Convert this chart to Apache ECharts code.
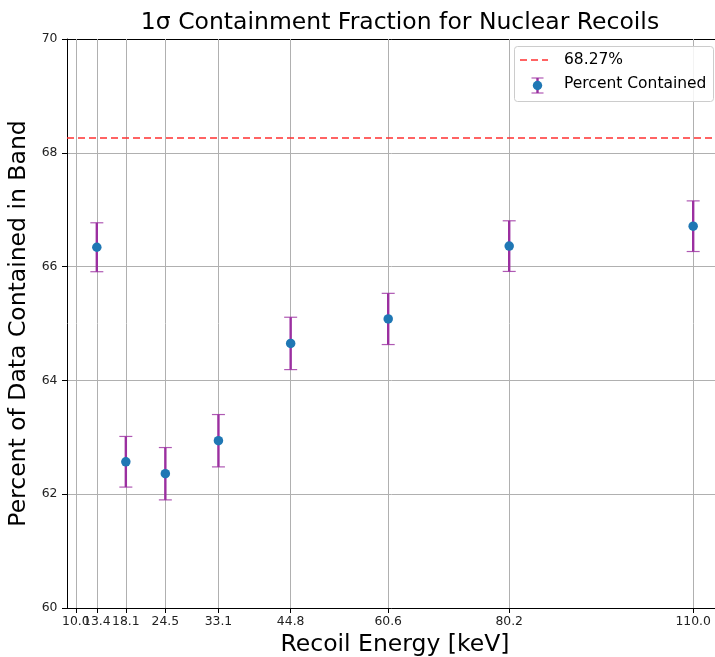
<!DOCTYPE html>
<html>
<head>
<meta charset="utf-8">
<script src="https://cdn.jsdelivr.net/npm/echarts@6/dist/echarts.min.js"></script>
<style>html,body{margin:0;padding:0;background:#fff;}#c{width:715px;height:657px;}</style>
</head>
<body>
<div id="c"></div>
<script>
const energies = [13.4, 18.1, 24.5, 33.1, 44.8, 60.6, 80.2, 110.0];
const percentContained = [66.34, 62.57, 62.36, 62.94, 64.65, 65.08, 66.36, 66.71];
const percentErrors = [0.43, 0.445, 0.46, 0.46, 0.46, 0.45, 0.445, 0.445];
const xTicks = [10.0, 13.4, 18.1, 24.5, 33.1, 44.8, 60.6, 80.2, 110.0];
const yTicks = [60, 62, 64, 66, 68, 70];
const referenceLevel = 68.27;
const xLimits = [8.57, 114.83];
const yLimits = [60, 70];

const FONT = 'DejaVu Sans';
const chart = echarts.init(document.getElementById('c'), null, {renderer: 'canvas'});

const points = energies.map((e, i) => [e, percentContained[i]]);
const bars = energies.map((e, i) => [e, percentContained[i] - percentErrors[i], percentContained[i] + percentErrors[i]]);
const ERR_COLOR = '#9b2fa0';

const tickLabelStyle = {formatter: v => v.toFixed(1), fontFamily: FONT, fontSize: 12.4, color: '#222', margin: 7.5,
  hideOverlap: false, showMinLabel: true, showMaxLabel: true};

const option = {
  animation: false,
  title: {
    text: '1σ Containment Fraction for Nuclear Recoils',
    left: 395, top: 6, textAlign: 'center',
    textStyle: {fontFamily: FONT, fontSize: 23.5, fontWeight: 'normal', color: '#000'}
  },
  grid: {left: 67, right: -8, top: 39, bottom: 49, containLabel: false, outerBoundsMode: 'none'},
  xAxis: [{
    type: 'value', min: xLimits[0], max: xLimits[1],
    name: 'Recoil Energy [keV]', nameLocation: 'middle', nameGap: 22,
    nameTextStyle: {fontFamily: FONT, fontSize: 23.5, color: '#000'},
    axisLine: {show: true, onZero: false, lineStyle: {color: '#000', width: 1}},
    axisTick: {show: true, length: 5, customValues: xTicks, lineStyle: {color: '#000'}},
    axisLabel: Object.assign({customValues: xTicks.slice(1)}, tickLabelStyle),
    splitLine: {show: false}
  }, {
    type: 'value', position: 'top', min: xLimits[0], max: xLimits[1],
    axisLine: {show: true, onZero: false, lineStyle: {color: '#000', width: 1}},
    axisTick: {show: false}, axisLabel: {show: false}, splitLine: {show: false}
  }, {
    type: 'value', position: 'bottom', min: xLimits[0], max: xLimits[1],
    axisLine: {show: false, onZero: false},
    axisTick: {show: false},
    axisLabel: Object.assign({customValues: xTicks.slice(0, 1)}, tickLabelStyle),
    splitLine: {show: false}
  }],
  yAxis: {
    type: 'value', min: yLimits[0], max: yLimits[1], interval: 2,
    name: 'Percent of Data Contained in Band', nameLocation: 'middle', nameGap: 29,
    nameTextStyle: {fontFamily: FONT, fontSize: 23.5, color: '#000'},
    axisLine: {show: true, lineStyle: {color: '#000', width: 1}},
    axisTick: {show: true, length: 5, lineStyle: {color: '#000'}},
    axisLabel: {fontFamily: FONT, fontSize: 12.4, color: '#222', margin: 9.5},
    splitLine: {show: true, lineStyle: {color: '#b0b0b0', width: 1}}
  },
  series: [
    {
      type: 'line', data: [], z: 1, silent: true,
      markLine: {
        silent: true, symbol: 'none', animation: false, label: {show: false}, z: 1,
        lineStyle: {color: '#b0b0b0', width: 1, type: 'solid'},
        data: xTicks.map(v => ({xAxis: v}))
      }
    },
    {
      type: 'line', name: '68.27%', data: [], z: 3, silent: true,
      markLine: {
        silent: true, symbol: 'none', animation: false, label: {show: false}, z: 3,
        lineStyle: {color: '#ff3030', width: 1.6, type: [7, 4]},
        data: [{yAxis: referenceLevel}]
      }
    },
    {
      type: 'custom', name: 'err', data: bars, z: 6,
      renderItem: function (params, api) {
        const x = api.value(0);
        const lo = api.coord([x, api.value(1)]);
        const hi = api.coord([x, api.value(2)]);
        const cw = 6.5;
        return {
          type: 'group',
          children: [
            {type: 'line', shape: {x1: lo[0], y1: lo[1], x2: hi[0], y2: hi[1]}, style: {stroke: ERR_COLOR, lineWidth: 2.4}},
            {type: 'line', shape: {x1: hi[0] - cw, y1: hi[1], x2: hi[0] + cw, y2: hi[1]}, style: {stroke: ERR_COLOR, lineWidth: 1.2, opacity: 0.8}},
            {type: 'line', shape: {x1: lo[0] - cw, y1: lo[1], x2: lo[0] + cw, y2: lo[1]}, style: {stroke: ERR_COLOR, lineWidth: 1.2, opacity: 0.8}}
          ]
        };
      },
      encode: {x: 0, y: [1, 2]}
    },
    {
      type: 'scatter', name: 'Percent Contained', data: points, z: 7,
      symbol: 'circle', symbolSize: 9.5,
      itemStyle: {color: '#1f77b4', opacity: 1}
    }
  ],
  graphic: [
    {type: 'rect', left: 514, top: 46, shape: {width: 199, height: 55, r: 3},
     style: {fill: 'rgba(255,255,255,0.85)', stroke: '#cccccc', lineWidth: 1}, z: 100},
    {type: 'line', shape: {x1: 520, y1: 60, x2: 548, y2: 60},
     style: {stroke: '#ff3030', lineWidth: 1.6, lineDash: [7, 4]}, z: 101},
    {type: 'text', left: 564, top: 52, style: {text: '68.27%', fontFamily: FONT, fontSize: 15.5, fill: '#000'}, z: 101},
    {type: 'line', shape: {x1: 537.5, y1: 78, x2: 537.5, y2: 93}, style: {stroke: ERR_COLOR, lineWidth: 2.4}, z: 101},
    {type: 'line', shape: {x1: 531.5, y1: 78, x2: 543.5, y2: 78}, style: {stroke: ERR_COLOR, lineWidth: 1.2, opacity: 0.8}, z: 101},
    {type: 'line', shape: {x1: 531.5, y1: 93, x2: 543.5, y2: 93}, style: {stroke: ERR_COLOR, lineWidth: 1.2, opacity: 0.8}, z: 101},
    {type: 'circle', shape: {cx: 537.5, cy: 85.5, r: 4.7}, style: {fill: '#1f77b4'}, z: 102},
    {type: 'text', left: 564, top: 76, style: {text: 'Percent Contained', fontFamily: FONT, fontSize: 15.5, fill: '#000'}, z: 101}
  ]
};
chart.setOption(option);
</script>
</body>
</html>
